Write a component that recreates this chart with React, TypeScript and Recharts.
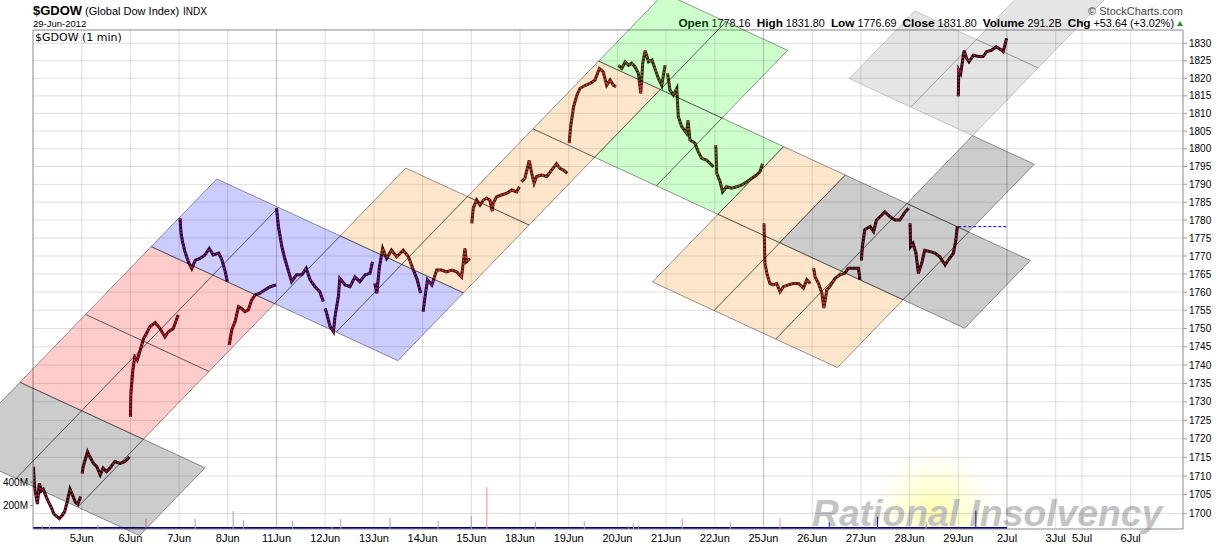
import React from "react"
import {
  ComposedChart,
  Line,
  Area,
  Scatter,
  XAxis,
  YAxis,
  CartesianGrid,
  ReferenceLine,
} from "recharts"

const WIDTH = 1228
const HEIGHT = 548
const FONT = '"Liberation Sans", Arial, sans-serif'

// x is trading days counted from the 4 Jun open, y is the index level (log scale)
const dayTicks = [1, 2, 3, 4, 5, 6, 7, 8, 9, 10, 11, 12, 13, 14, 15, 16, 17, 18, 19, 20, 21, 21.54, 22.54]
const dayLabels = [
  "5Jun", "6Jun", "7Jun", "8Jun", "11Jun", "12Jun", "13Jun", "14Jun", "15Jun", "18Jun", "19Jun",
  "20Jun", "21Jun", "22Jun", "25Jun", "26Jun", "27Jun", "28Jun", "29Jun", "2Jul", "3Jul", "5Jul", "6Jul",
]
const darkDays = [5, 15, 20]
const priceTicks = [
  1700, 1705, 1710, 1715, 1720, 1725, 1730, 1735, 1740, 1745, 1750, 1755, 1760, 1765,
  1770, 1775, 1780, 1785, 1790, 1795, 1800, 1805, 1810, 1815, 1820, 1825, 1830,
]
const volTicks = [200, 400]

// 1 minute closes, sampled: [day, level]
const jun04 = [[0.01, 1712.5], [0.03, 1707], [0.06, 1705], [0.09, 1702.5], [0.13, 1708], [0.17, 1706], [0.21, 1706.5], [0.27, 1704.5], [0.32, 1703], [0.38, 1701.5], [0.43, 1699.8], [0.49, 1699.2], [0.54, 1698.6], [0.6, 1699.5], [0.65, 1700.5], [0.7, 1703], [0.76, 1706.5], [0.81, 1705], [0.87, 1703], [0.92, 1702.5], [0.98, 1704.5]]
const jun05 = [[1.01, 1710.7], [1.03, 1712.5], [1.07, 1714.3], [1.12, 1716.5], [1.17, 1715.1], [1.24, 1713.4], [1.31, 1712.5], [1.38, 1710.3], [1.44, 1712.1], [1.51, 1711.2], [1.58, 1712.1], [1.68, 1713.9], [1.79, 1713.4], [1.89, 1713.9], [1.98, 1715.1]]
const jun06 = [[2.0, 1725.9], [2.01, 1732.3], [2.05, 1738.6], [2.09, 1742.2], [2.14, 1741.3], [2.2, 1744], [2.27, 1747.2], [2.33, 1748.6], [2.4, 1750.5], [2.51, 1751.6], [2.61, 1750], [2.71, 1747.7], [2.78, 1749.1], [2.88, 1750], [2.98, 1753.7]]
const jun07 = [[3.02, 1780.5], [3.04, 1776.3], [3.07, 1774], [3.12, 1771.2], [3.19, 1768.4], [3.26, 1766.5], [3.33, 1768.8], [3.43, 1769.3], [3.53, 1770.3], [3.62, 1772.1], [3.7, 1770.3], [3.81, 1770.8], [3.87, 1769.3], [3.94, 1766.1], [3.99, 1762.9]]
const jun08 = [[4.03, 1745.5], [4.08, 1749.6], [4.15, 1751.9], [4.22, 1756], [4.28, 1755.6], [4.35, 1754.6], [4.42, 1755.1], [4.49, 1757.8], [4.56, 1759.2], [4.66, 1759.7], [4.76, 1760.6], [4.87, 1761.5], [4.99, 1762]]
const jun11 = [[5.0, 1783.3], [5.04, 1778.2], [5.11, 1772.6], [5.17, 1769.3], [5.24, 1766.1], [5.31, 1762.9], [5.41, 1764.8], [5.52, 1764.8], [5.61, 1766.6], [5.69, 1763.4], [5.79, 1761.5], [5.89, 1760.1], [5.96, 1757.4]]
const jun12 = [[6.0, 1755.5], [6.03, 1754.2], [6.1, 1750.5], [6.17, 1749.1], [6.2, 1753.2], [6.27, 1758.7], [6.3, 1763.8], [6.41, 1762], [6.51, 1761.5], [6.61, 1764.2], [6.71, 1762.9], [6.82, 1764.8], [6.92, 1765.2], [6.97, 1768.4]]
const jun13 = [[7.02, 1762.4], [7.06, 1759.7], [7.11, 1766.6], [7.18, 1772.1], [7.26, 1769.3], [7.36, 1771.6], [7.47, 1769.8], [7.6, 1771.6], [7.71, 1769.8], [7.81, 1766.1], [7.89, 1763.4], [7.96, 1759.7]]
const jun14 = [[8.01, 1754.6], [8.05, 1758.7], [8.1, 1763.4], [8.19, 1762], [8.29, 1766.1], [8.39, 1766.1], [8.49, 1765.6], [8.6, 1766.1], [8.7, 1765.6], [8.8, 1764.2], [8.87, 1772.1], [8.9, 1768.4], [8.97, 1769.3]]
const jun15 = [[9.01, 1779.1], [9.04, 1783.3], [9.11, 1785.6], [9.18, 1784.2], [9.25, 1785.6], [9.31, 1786.1], [9.38, 1785.6], [9.43, 1782.5], [9.45, 1784.7], [9.52, 1786.5], [9.62, 1787], [9.73, 1787.5], [9.83, 1788.4], [9.93, 1787.9], [9.99, 1789.3]]
const jun18 = [[10.03, 1790.7], [10.1, 1791.7], [10.19, 1796.7], [10.24, 1793.1], [10.29, 1790.3], [10.34, 1792.2], [10.45, 1792.6], [10.55, 1792.2], [10.65, 1794], [10.75, 1795.8], [10.82, 1794.5], [10.89, 1794], [10.97, 1793.1]]
const jun19 = [[11.01, 1801.6], [11.04, 1806.3], [11.1, 1811.9], [11.17, 1815.2], [11.23, 1817.1], [11.34, 1818], [11.44, 1818.5], [11.54, 1819.5], [11.63, 1822.8], [11.71, 1821.8], [11.78, 1818], [11.85, 1819.5], [11.92, 1818], [11.97, 1817.6]]
const jun20 = [[12.02, 1823.7], [12.09, 1822.8], [12.16, 1824.7], [12.23, 1823.7], [12.29, 1824.3], [12.36, 1823.3], [12.43, 1821.4], [12.48, 1815.7], [12.52, 1824.3], [12.57, 1827.9], [12.64, 1824.7], [12.71, 1825.2], [12.77, 1822.8], [12.84, 1820], [12.91, 1818], [12.98, 1823.7]]
const jun21 = [[13.03, 1821.4], [13.08, 1816.6], [13.15, 1815.2], [13.22, 1817.1], [13.25, 1809.1], [13.32, 1806.3], [13.42, 1804.4], [13.45, 1808], [13.49, 1802.5], [13.59, 1801.6], [13.66, 1799.2], [13.73, 1797.3], [13.83, 1796.8], [13.9, 1795.9], [13.97, 1794.9]]
const jun22 = [[14.02, 1801], [14.04, 1793.1], [14.11, 1790.7], [14.16, 1787.9], [14.24, 1789.3], [14.35, 1788.9], [14.45, 1789.3], [14.55, 1789.8], [14.66, 1790.7], [14.76, 1791.7], [14.86, 1792.6], [14.93, 1793.6], [14.98, 1795.8]]
const jun25 = [[15.01, 1779.1], [15.03, 1768], [15.07, 1765.2], [15.13, 1762.4], [15.2, 1762], [15.27, 1762.4], [15.34, 1760.1], [15.41, 1761.5], [15.51, 1762], [15.61, 1762.4], [15.72, 1762.4], [15.82, 1761.1], [15.89, 1763.4], [15.96, 1762.4]]
const jun26 = [[16.03, 1766.6], [16.06, 1764.2], [16.13, 1762.4], [16.2, 1759.7], [16.24, 1755.6], [16.3, 1760.6], [16.36, 1761.5], [16.47, 1763.8], [16.57, 1764.8], [16.67, 1765.2], [16.74, 1766.6], [16.85, 1766.6], [16.95, 1766.6], [16.98, 1763.4]]
const jun27 = [[17.01, 1768.8], [17.03, 1772.6], [17.08, 1777.3], [17.19, 1778.2], [17.26, 1776.8], [17.32, 1780], [17.43, 1781.4], [17.49, 1782.3], [17.6, 1780.9], [17.7, 1780], [17.8, 1780], [17.91, 1782.3], [17.98, 1783.3]]
const jun28 = [[18.01, 1779.1], [18.02, 1772.6], [18.07, 1773.5], [18.13, 1770.8], [18.18, 1765.2], [18.25, 1768], [18.31, 1771.6], [18.42, 1771.2], [18.52, 1770.8], [18.62, 1769.8], [18.73, 1767.5], [18.79, 1768.8], [18.9, 1770.8], [18.95, 1774.5], [18.98, 1778.2]]
const jun29 = [[19.0, 1814.9], [19.01, 1822.4], [19.05, 1821.4], [19.09, 1825.2], [19.12, 1827.9], [19.17, 1825.7], [19.22, 1824.7], [19.31, 1826.6], [19.41, 1826.2], [19.51, 1826.2], [19.58, 1827.6], [19.68, 1828], [19.78, 1829], [19.89, 1828], [19.92, 1827.6], [19.95, 1829], [19.99, 1831.4]]

const priceDays = [jun04, jun05, jun06, jun07, jun08, jun11, jun12, jun13, jun14, jun15, jun18, jun19, jun20, jun21, jun22, jun25, jun26, jun27, jun28, jun29]

const prevClose = 1778.16

// volume in millions: spikes plus the steady per-minute base
const volTimes = [0.19, 0.34, 1.33, 2.32, 3.33, 4.11, 4.32, 5.33, 6.14, 6.32, 7.33, 8.32, 9.0, 9.32, 10.32, 11.32, 12.23, 12.33, 12.43, 13.33, 14.32, 15.34, 16.35, 17.34, 18.34, 19.36]
const volValues = [34, 25, 34, 85, 85, 153, 77, 68, 20, 85, 94, 68, 111, 357, 60, 68, 15, 48, 28, 91, 57, 91, 57, 105, 62, 156]
const volKinds = ["g", "p", "g", "p", "g", "g", "g", "g", "p", "p", "g", "p", "g", "p", "g", "p", "g", "p", "g", "p", "p", "p", "n", "n", "g", "n"]
const volBaseTimes = [0, 20]
const volBaseValues = [17, 17]

// channel boxes, corners as [day, level]: origin, origin+A, origin+A+B, origin+B
const boxCorners = [
  [[-1.614, 1716.96], [-0.267, 1735.3], [3.532, 1712.2], [2.185, 1694.1]],
  [[-0.267, 1735.3], [2.427, 1772.6], [4.96, 1756.8], [2.266, 1719.9]],
  [[2.427, 1772.6], [3.774, 1791.5], [8.839, 1759.8], [7.492, 1741.2]],
  [[6.307, 1775.6], [7.654, 1794.55], [10.186, 1778.6], [8.839, 1759.8]],
  [[8.92, 1786.55], [11.614, 1824.9], [12.88, 1816.8], [10.186, 1778.6]],
  [[11.614, 1824.9], [12.961, 1844.4], [15.494, 1828.0], [14.147, 1808.7]],
  [[11.533, 1797.6], [12.88, 1816.8], [15.413, 1800.6], [14.066, 1781.6]],
  [[12.719, 1762.8], [14.066, 1781.6], [17.865, 1757.9], [16.518, 1739.3]],
  [[14.066, 1781.6], [15.413, 1800.6], [16.679, 1792.6], [15.332, 1773.7]],
  [[15.332, 1773.7], [16.679, 1792.6], [20.478, 1768.75], [19.131, 1750.05]],
  [[17.945, 1784.6], [19.292, 1803.7], [20.559, 1795.65], [19.212, 1776.7]],
  [[16.76, 1819.9], [18.107, 1839.3], [20.639, 1822.96], [19.292, 1803.7]],
  [[19.373, 1831.1], [20.72, 1850.7], [21.986, 1842.4], [20.639, 1822.96]],
]
const boxSplits = [[1, 3], [2, 2], [1, 4], [1, 2], [2, 1], [1, 2], [1, 2], [1, 3], [1, 1], [1, 3], [1, 1], [1, 2], [1, 1]]
const boxTints = ["gray", "pink", "purple", "orange", "orange", "green", "green", "orange", "orange", "gray", "gray", "light", "light"]

const tintStyle: Record<string, { fill: string; op: number; edge: number; inner: number }> = {
  gray: { fill: "#000000", op: 0.2, edge: 0.4, inner: 0.6 },
  pink: { fill: "#ff0000", op: 0.2, edge: 0.4, inner: 0.6 },
  purple: { fill: "#0000ff", op: 0.2, edge: 0.4, inner: 0.6 },
  orange: { fill: "#f58200", op: 0.2, edge: 0.4, inner: 0.6 },
  green: { fill: "#00ff00", op: 0.2, edge: 0.4, inner: 0.6 },
  light: { fill: "#000000", op: 0.1, edge: 0.18, inner: 0.3 },
}
const spikeColor: Record<string, string> = { g: "#a0a0a0", p: "#e8909f", n: "#1a1a8c" }

const priceData: { t: number; p: number | null }[] = []
priceDays.forEach((day, k) => {
  if (k > 0) {
    const prev = priceDays[k - 1]
    priceData.push({ t: (prev[prev.length - 1][0] + day[0][0]) / 2, p: null })
  }
  day.forEach(([t, p]) => priceData.push({ t, p }))
})
const volBase = volBaseTimes.map((t, i) => ({ t, v: volBaseValues[i] }))

type Pt = { x: number; y: number }
const lerp = (a: Pt, b: Pt, f: number): Pt => ({ x: a.x + (b.x - a.x) * f, y: a.y + (b.y - a.y) * f })

function BoxShape(props: any) {
  const { points, tint, splitA, splitB } = props
  if (!points || points.length < 4) return null
  const [c0, c1, c2, c3] = points as Pt[]
  const s = tintStyle[tint]
  const segs: { p: Pt; q: Pt; outer: boolean }[] = []
  for (let k = 0; k <= splitA; k++) {
    segs.push({ p: lerp(c0, c1, k / splitA), q: lerp(c3, c2, k / splitA), outer: k === 0 || k === splitA })
  }
  for (let k = 0; k <= splitB; k++) {
    segs.push({ p: lerp(c0, c3, k / splitB), q: lerp(c1, c2, k / splitB), outer: k === 0 || k === splitB })
  }
  return (
    <g>
      <polygon
        points={[c0, c1, c2, c3].map((c) => `${c.x},${c.y}`).join(" ")}
        fill={s.fill}
        fillOpacity={s.op}
        stroke="none"
      />
      {segs.map((sg, i) => (
        <line
          key={i}
          x1={sg.p.x}
          y1={sg.p.y}
          x2={sg.q.x}
          y2={sg.q.y}
          stroke="#000"
          strokeOpacity={sg.outer ? s.edge : s.inner}
          strokeWidth={1}
        />
      ))}
    </g>
  )
}

const layer: React.CSSProperties = { position: "absolute", left: 0, top: 0 }

export default function App() {
  return (
    <div
      style={{
        position: "absolute",
        left: 0,
        top: 0,
        width: WIDTH,
        height: HEIGHT,
        background: "#fff",
        overflow: "hidden",
        fontFamily: FONT,
      }}
    >
      <svg width={WIDTH} height={HEIGHT} style={layer}>
        <defs>
          <radialGradient id="glow">
            <stop offset="0%" stopColor="#ffff99" stopOpacity={0.95} />
            <stop offset="55%" stopColor="#ffffc8" stopOpacity={0.5} />
            <stop offset="100%" stopColor="#ffffff" stopOpacity={0} />
          </radialGradient>
          <clipPath id="plotClip">
            <rect x={33} y={30} width={1150} height={499} />
          </clipPath>
        </defs>
        <circle cx={935} cy={515} r={72} fill="url(#glow)" clipPath="url(#plotClip)" />
        <text x={812} y={526} fontSize={37.3} fontWeight="bold" fontStyle="italic" fill="#c4c4c4">
          Rational Insolvency
        </text>
      </svg>

      <div style={layer}>
        <ComposedChart width={WIDTH} height={HEIGHT} margin={{ top: 30, right: 0, bottom: 0, left: 0 }}>
          <CartesianGrid xAxisId="t" yAxisId="p" stroke="#000" strokeOpacity={0.13} />
          <XAxis
            xAxisId="t"
            type="number"
            dataKey="t"
            domain={[0, 23.614]}
            allowDataOverflow
            ticks={dayTicks}
            interval={0}
            tickFormatter={(v: number) => dayLabels[dayTicks.indexOf(v)] ?? ""}
            height={19}
            tickSize={3}
            tickLine={false}
            axisLine={{ stroke: "#999" }}
            tick={{ fontSize: 11, fill: "#000" }}
          />
          <YAxis
            yAxisId="p"
            orientation="right"
            type="number"
            scale="log"
            domain={[1695.86, 1833.82]}
            allowDataOverflow
            ticks={priceTicks}
            interval={0}
            width={45}
            tickSize={4}
            tickLine={{ stroke: "#999" }}
            axisLine={{ stroke: "#999" }}
            tick={{ fontSize: 10, fill: "#000" }}
          />
          <YAxis
            yAxisId="v"
            orientation="left"
            type="number"
            domain={[0, 4247]}
            allowDataOverflow
            ticks={volTicks}
            interval={0}
            width={33}
            tickSize={3}
            tickLine={{ stroke: "#999" }}
            axisLine={{ stroke: "#999" }}
            tick={{ fontSize: 10, fill: "#000" }}
            tickFormatter={(v: number) => `${v}M`}
          />
          {darkDays.map((d) => (
            <ReferenceLine key={d} xAxisId="t" yAxisId="p" x={d} stroke="#000" strokeOpacity={0.15} />
          ))}
          <ReferenceLine xAxisId="t" yAxisId="p" y={1833.82} stroke="#999" />
          <Area
            xAxisId="t"
            yAxisId="v"
            data={volBase}
            dataKey="v"
            type="linear"
            stroke="none"
            fill="#000080"
            fillOpacity={1}
            isAnimationActive={false}
          />
          {volTimes.map((t, i) => (
            <ReferenceLine
              key={`vol-${i}`}
              xAxisId="t"
              yAxisId="v"
              segment={[{ x: t, y: 0 }, { x: t, y: volValues[i] }]}
              stroke={spikeColor[volKinds[i]]}
              strokeWidth={1}
            />
          ))}
          <Line
            xAxisId="t"
            yAxisId="p"
            data={priceData}
            dataKey="p"
            type="linear"
            stroke="#000"
            strokeWidth={3}
            dot={false}
            connectNulls={false}
            isAnimationActive={false}
          />
          <Line
            xAxisId="t"
            yAxisId="p"
            data={priceData}
            dataKey="p"
            type="linear"
            stroke="#dc143c"
            strokeWidth={1.8}
            strokeDasharray="2 1.5"
            dot={false}
            connectNulls={false}
            isAnimationActive={false}
          />
          <ReferenceLine
            xAxisId="t"
            yAxisId="p"
            segment={[{ x: 19, y: prevClose }, { x: 20, y: prevClose }]}
            stroke="#0000ff"
            strokeDasharray="3 2"
          />
        </ComposedChart>
      </div>

      <svg width={WIDTH} height={HEIGHT} style={layer}>
        <text x={33} y={15} fontSize={13} fontWeight="bold" fill="#000">$GDOW</text>
        <text x={85} y={15} fontSize={11} fill="#000">(Global Dow Index)</text>
        <text x={183} y={15} fontSize={10} fill="#000">INDX</text>
        <text x={33} y={27} fontSize={9.5} fill="#000">29-Jun-2012</text>
        <text x={35} y={41} fontSize={11} fill="#000" fontFamily='"DejaVu Sans", Verdana, sans-serif'>
          $GDOW (1 min)
        </text>
        <text x={1183} y={15} textAnchor="end" fontSize={11} fill="#444">© StockCharts.com</text>
        <text x={1174} y={27} textAnchor="end" fontSize={10.8} fill="#000" style={{ whiteSpace: "pre" }}>
          <tspan fontWeight="bold" fontSize={11.8}>Open</tspan>
          <tspan>{" 1778.16  "}</tspan>
          <tspan fontWeight="bold" fontSize={11.8}>High</tspan>
          <tspan>{" 1831.80  "}</tspan>
          <tspan fontWeight="bold" fontSize={11.8}>Low</tspan>
          <tspan>{" 1776.69  "}</tspan>
          <tspan fontWeight="bold" fontSize={11.8}>Close</tspan>
          <tspan>{" 1831.80  "}</tspan>
          <tspan fontWeight="bold" fontSize={11.8}>Volume</tspan>
          <tspan>{" 291.2B  "}</tspan>
          <tspan fontWeight="bold" fontSize={11.8}>Chg</tspan>
          <tspan>{" +53.64 (+3.02%)"}</tspan>
        </text>
        <polygon points="1177,26 1183,26 1180,21" fill="#2e8b2e" />
      </svg>

      <div style={{ ...layer, pointerEvents: "none" }}>
        <ComposedChart width={WIDTH} height={HEIGHT} margin={{ top: 0, right: 0, bottom: 0, left: 0 }}>
          <XAxis xAxisId="bx" type="number" dataKey="d" domain={[-0.678, 24.538]} allowDataOverflow hide />
          <YAxis
            yAxisId="by"
            type="number"
            dataKey="p"
            scale="log"
            domain={[1690.81, 1842.46]}
            allowDataOverflow
            hide
          />
          {boxCorners.map((corners, i) => (
            <Scatter
              key={`box-${i}`}
              xAxisId="bx"
              yAxisId="by"
              dataKey="p"
              data={corners.map(([d, p]) => ({ d, p }))}
              shape={() => <g />}
              line={<BoxShape tint={boxTints[i]} splitA={boxSplits[i][0]} splitB={boxSplits[i][1]} />}
              lineType="joint"
              isAnimationActive={false}
            />
          ))}
        </ComposedChart>
      </div>
    </div>
  )
}
